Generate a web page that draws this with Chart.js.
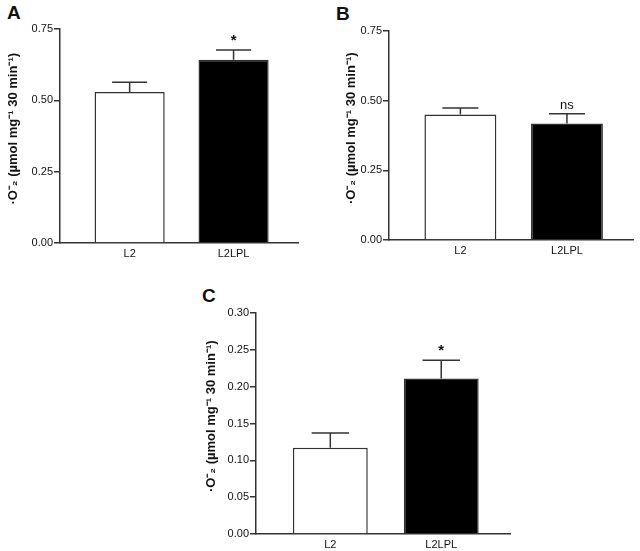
<!DOCTYPE html>
<html>
<head>
<meta charset="utf-8">
<script src="https://cdn.jsdelivr.net/npm/chart.js@4"></script>
<style>
  body { margin: 0; background: #fff; }
  #wrap { position: relative; width: 640px; height: 551px; overflow: hidden; }
  canvas { position: absolute; }
  .tag { position: absolute; font: bold 19px "Liberation Sans", Arial, sans-serif; color: #111; }
</style>
</head>
<body>
<div id="wrap">
  <div class="tag" style="left:7px;top:2px">A</div>
  <div class="tag" style="left:336px;top:3px">B</div>
  <div class="tag" style="left:202px;top:285px">C</div>
  <canvas id="chartA" width="300" height="275" style="left:6px;top:0px"></canvas>
  <canvas id="chartB" width="296" height="275" style="left:344px;top:0px"></canvas>
  <canvas id="chartC" width="320" height="266" style="left:204px;top:285px"></canvas>
</div>
<script>
// groups on the x axis
const categories = ["L2", "L2LPL"];

// panel A
const valuesA = [0.529, 0.642];
const errorsA = [0.034, 0.034];
const marksA = ["", "*"];
const ticksA = [0.00, 0.25, 0.50, 0.75];

// panel B
const valuesB = [0.450, 0.418];
const errorsB = [0.024, 0.035];
const marksB = ["", "ns"];
const ticksB = [0.00, 0.25, 0.50, 0.75];

// panel C
const valuesC = [0.117, 0.211];
const errorsC = [0.020, 0.025];
const marksC = ["", "*"];
const ticksC = [0.00, 0.05, 0.10, 0.15, 0.20, 0.25, 0.30];

const FONT = "'Liberation Sans', Arial, sans-serif";
const AXIS = "#333";
// leading spaces nudge the rotated title a little up, like the original
const yTitle = "    ·O\u207B\u2082 (µmol mg\u207B\u00B9 30 min\u207B\u00B9)";

// upper error bars + significance marks
const errorBarPlugin = {
  id: "errorBars",
  afterDatasetsDraw(chart, args, opts) {
    const ctx = chart.ctx;
    const yScale = chart.scales.y;
    const meta = chart.getDatasetMeta(0);
    ctx.save();
    ctx.strokeStyle = AXIS;
    ctx.lineWidth = 1.5;
    meta.data.forEach((bar, i) => {
      const top = yScale.getPixelForValue(opts.values[i]);
      const errTop = yScale.getPixelForValue(opts.values[i] + opts.errors[i]);
      const half = bar.width / 4;
      ctx.beginPath();
      ctx.moveTo(bar.x, top);
      ctx.lineTo(bar.x, errTop);
      ctx.moveTo(bar.x - half, errTop);
      ctx.lineTo(bar.x + half, errTop);
      ctx.stroke();
      const mark = opts.marks[i];
      if (mark) {
        ctx.fillStyle = "#111";
        ctx.textAlign = "center";
        ctx.textBaseline = "alphabetic";
        if (mark === "*") {
          ctx.font = "bold 15px " + FONT;
          ctx.fillText(mark, bar.x, errTop - 5);
        } else {
          ctx.font = "13px " + FONT;
          ctx.fillText(mark, bar.x, errTop - 5);
        }
      }
    });
    ctx.restore();
  }
};

function makePanel(id, values, errors, marks, yTicks, box) {
  const yMax = yTicks[yTicks.length - 1];
  return new Chart(document.getElementById(id), {
    type: "bar",
    data: {
      datasets: [{
        data: values.map((v, i) => ({ x: i, y: v })),
        backgroundColor: ["#ffffff", "#000000"],
        borderColor: AXIS,
        borderWidth: 1.5,
        borderSkipped: "bottom",
        barPercentage: 0.675,
        categoryPercentage: 1
      }]
    },
    options: {
      responsive: false,
      animation: false,
      layout: { padding: { top: box.top, right: box.right, left: 0, bottom: 0 } },
      plugins: {
        legend: { display: false },
        tooltip: { enabled: false },
        errorBars: { values: values, errors: errors, marks: marks }
      },
      scales: {
        x: {
          type: "linear",
          min: -0.67,
          max: 1.62,
          offset: false,
          afterBuildTicks: (s) => { s.ticks = categories.map((c, i) => ({ value: i })); },
          afterFit: (s) => { s.height = box.xh; },
          grid: { display: false, drawTicks: false },
          border: { display: true, color: AXIS, width: 1.5 },
          ticks: {
            padding: 4,
            color: "#111",
            font: { family: FONT, size: 11 },
            callback: (v) => categories[v]
          }
        },
        y: {
          min: 0,
          max: yMax,
          afterBuildTicks: (s) => { s.ticks = yTicks.map((v) => ({ value: v })); },
          afterFit: (s) => { s.width = box.yw; },
          grid: { drawOnChartArea: false, color: AXIS, lineWidth: 1.5, tickLength: 6 },
          border: { display: true, color: AXIS, width: 1.5 },
          ticks: {
            padding: 1,
            color: "#111",
            font: { family: FONT, size: 11 },
            callback: (v) => Number(v).toFixed(2)
          },
          title: {
            display: true,
            text: yTitle,
            color: "#111",
            padding: { top: 0, bottom: 0 },
            font: { family: FONT, size: 13, weight: "bold" }
          }
        }
      }
    },
    plugins: [errorBarPlugin]
  });
}

makePanel("chartA", valuesA, errorsA, marksA, ticksA, { top: 29, right: 8, yw: 54, xh: 32 });
makePanel("chartB", valuesB, errorsB, marksB, ticksB, { top: 31, right: 7, yw: 45, xh: 35 });
makePanel("chartC", valuesC, errorsC, marksC, ticksC, { top: 28, right: 14, yw: 52, xh: 17 });
</script>
</body>
</html>
